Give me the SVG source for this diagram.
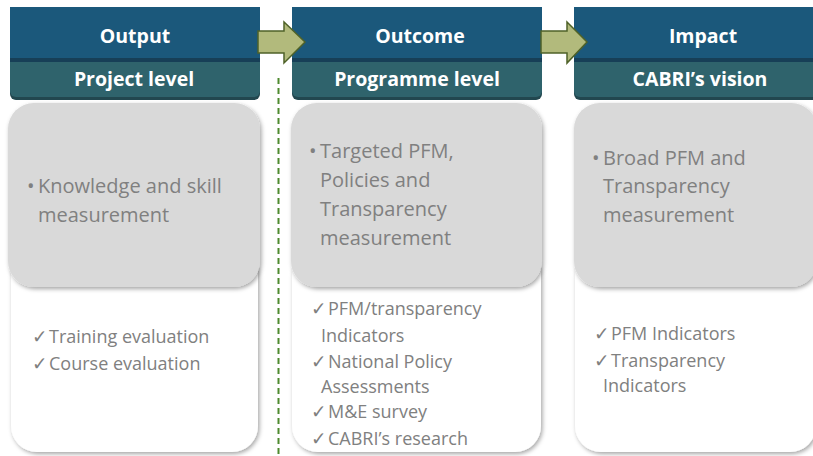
<svg xmlns="http://www.w3.org/2000/svg" width="813" height="456" viewBox="0 0 813 456">
<style>
.hTop{fill:#1b587b}
.hLine{fill:#173f57}
.hBot{fill:#2f636c}
.hBotLine{fill:#22474f}
.hT{font-family:"Open Sans","Liberation Sans",sans-serif;font-weight:bold;font-size:19.5px;fill:#ffffff;text-anchor:middle}
.gray{fill:#d9d9d9}
.white{fill:#ffffff}
.gT{font-family:"Open Sans","Liberation Sans",sans-serif;font-size:20px;fill:#808080}
.wT{font-family:"Open Sans","Liberation Sans",sans-serif;font-size:18px;fill:#808080}
.ck{font-family:"DejaVu Sans","Noto Sans",sans-serif;font-size:18.5px}
.arrow{fill:#b2ba7c;stroke:#4f6228;stroke-width:1.5;stroke-linejoin:miter}
.dash{stroke:#4e8a2e;stroke-width:2;stroke-dasharray:6 4;fill:none}
</style>
<defs>
<filter id="sh" x="-10%" y="-10%" width="120%" height="120%">
<feDropShadow dx="1.5" dy="2" stdDeviation="2" flood-color="#000" flood-opacity="0.35"/>
</filter>
<g id="hdr">
<path d="M0 0 H250 V87 A6 6 0 0 1 244 93 H6 A6 6 0 0 1 0 87 Z" class="hBotLine"/>
<path d="M0 0 H250 V84 A6 6 0 0 1 244 90 H6 A6 6 0 0 1 0 84 Z" class="hBot"/>
<rect x="0" y="0" width="250" height="55" class="hLine"/>
<rect x="0" y="0" width="250" height="51" class="hTop"/>
</g>
</defs>

<g id="dashes">
<line x1="278.5" y1="78" x2="278.5" y2="456" class="dash"/>
</g>

<g id="output-col">
<g id="output-white"><rect x="11" y="250" width="247" height="202" rx="26" class="white" filter="url(#sh)"/>
<text class="wT" x="32" y="343"><tspan class="ck">✓</tspan><tspan x="49">Training evaluation</tspan></text>
<text class="wT" x="32" y="370"><tspan class="ck">✓</tspan><tspan x="49">Course evaluation</tspan></text>
</g>
<g id="output-gray"><rect x="8" y="103" width="252" height="184" rx="26" class="gray" filter="url(#sh)"/>
<text class="gT" x="27" y="193">•<tspan x="38">Knowledge and skill</tspan></text>
<text class="gT" x="38" y="222">measurement</text>
</g>
<g id="output-header"><use href="#hdr" x="10" y="7"/>
<text class="hT" x="135" y="43">Output</text>
<text class="hT" x="134" y="86">Project level</text>
</g>
</g>

<g id="outcome-col">
<g id="outcome-white"><rect x="292" y="250" width="249" height="202" rx="26" class="white" filter="url(#sh)"/>
<text class="wT" x="311" y="315"><tspan class="ck">✓</tspan><tspan x="328">PFM/transparency</tspan></text>
<text class="wT" x="321" y="342">Indicators</text>
<text class="wT" x="311" y="368"><tspan class="ck">✓</tspan><tspan x="328">National Policy</tspan></text>
<text class="wT" x="321" y="393">Assessments</text>
<text class="wT" x="311" y="418"><tspan class="ck">✓</tspan><tspan x="328">M&amp;E survey</tspan></text>
<text class="wT" x="311" y="445"><tspan class="ck">✓</tspan><tspan x="328">CABRI’s research</tspan></text>
</g>
<g id="outcome-gray"><rect x="291" y="103" width="251" height="184" rx="26" class="gray" filter="url(#sh)"/>
<text class="gT" x="309" y="158">•<tspan x="320">Targeted PFM,</tspan></text>
<text class="gT" x="320" y="187">Policies and</text>
<text class="gT" x="320" y="216">Transparency</text>
<text class="gT" x="320" y="245">measurement</text>
</g>
<g id="outcome-header"><use href="#hdr" x="292" y="7"/>
<text class="hT" x="420" y="43">Outcome</text>
<text class="hT" x="417" y="86">Programme level</text>
</g>
</g>

<g id="impact-col">
<g id="impact-white"><rect x="575" y="250" width="241" height="202" rx="26" class="white" filter="url(#sh)"/>
<text class="wT" x="594" y="340"><tspan class="ck">✓</tspan><tspan x="611">PFM Indicators</tspan></text>
<text class="wT" x="594" y="367"><tspan class="ck">✓</tspan><tspan x="611">Transparency</tspan></text>
<text class="wT" x="603" y="392">Indicators</text>
</g>
<g id="impact-gray"><rect x="574" y="103" width="243" height="184" rx="26" class="gray" filter="url(#sh)"/>
<text class="gT" x="592" y="165">•<tspan x="603">Broad PFM and</tspan></text>
<text class="gT" x="603" y="193">Transparency</text>
<text class="gT" x="603" y="222">measurement</text>
</g>
<g id="impact-header"><use href="#hdr" x="574" y="7"/>
<text class="hT" x="703" y="43">Impact</text>
<text class="hT" x="700" y="86">CABRI’s vision</text>
</g>
</g>

<g id="connectors">
<polygon class="arrow" points="258,31 284,31 284,22 305,42 284,63 284,53 258,53"/>
<polygon class="arrow" points="541,31 567,31 567,22 587,42 567,63 567,53 541,53"/>
</g>
</svg>
